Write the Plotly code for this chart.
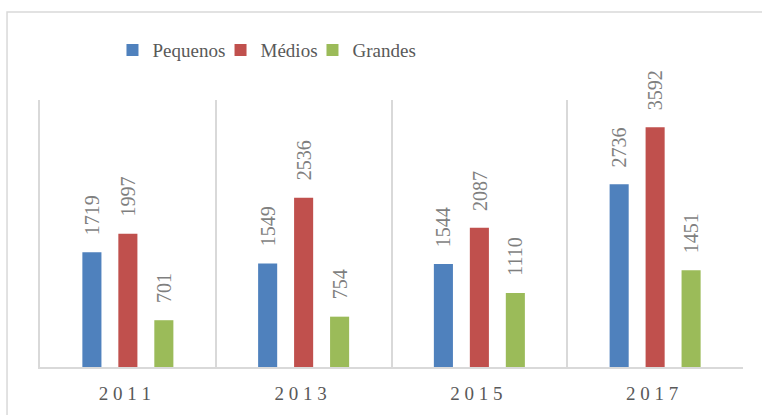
import plotly.graph_objects as go

years = ["2011", "2013", "2015", "2017"]
tick_labels = ["2 0 1 1", "2 0 1 3", "2 0 1 5", "2 0 1 7"]
pequenos = [1719, 1549, 1544, 2736]
medios = [1997, 2536, 2087, 3592]
grandes = [701, 754, 1110, 1451]

series = [
    ("Pequenos", pequenos, "#4f81bd"),
    ("Médios", medios, "#c0504d"),
    ("Grandes", grandes, "#9bbb59"),
]

FONT = "Liberation Serif, Times New Roman, serif"
legend_names = ["legend", "legend2", "legend3"]
legend_x = [0.1031, 0.2568, 0.3876]

fig = go.Figure()
for (name, vals, col), lg in zip(series, legend_names):
    fig.add_trace(go.Bar(name=name, x=years, y=vals, legend=lg,
                         marker=dict(color=col, line=dict(width=0))))

# data labels (x given as category index)
offsets = [-36, 0, 36]
for (name, vals, col), dx in zip(series, offsets):
    for i, v in enumerate(vals):
        fig.add_annotation(x=i, y=v, xref="x", yref="y", text=str(v), showarrow=False,
                           textangle=-90, xshift=dx, yshift=15, yanchor="bottom",
                           font=dict(family=FONT, size=20, color="#7f7f7f"))

# outer chart border
fig.add_shape(type="rect", xref="paper", yref="paper", x0=-0.0469, x1=1.04, y0=-0.2, y1=1.3296,
              line=dict(color="#d9d9d9", width=1.5), fillcolor="rgba(0,0,0,0)", layer="below")

legend_style = dict(orientation="h", xanchor="left", y=1.187, yanchor="middle",
                    font=dict(family=FONT, size=19, color="#595959"), itemwidth=30,
                    bgcolor="rgba(0,0,0,0)", borderwidth=0)

fig.update_layout(
    width=762, height=415,
    margin=dict(l=40, r=19, t=100, b=48, autoexpand=False),
    paper_bgcolor="white", plot_bgcolor="white",
    barmode="group", bargap=0.386, bargroupgap=0.47,
    font=dict(family=FONT, color="#595959"),
    showlegend=True,
    legend=dict(x=legend_x[0], **legend_style),
    legend2=dict(x=legend_x[1], **legend_style),
    legend3=dict(x=legend_x[2], **legend_style),
    xaxis=dict(type="category", categoryorder="array", categoryarray=years,
               range=[-0.5, len(years) - 0.5], autorange=False,
               tickson="boundaries", showgrid=True, gridcolor="#d9d9d9", gridwidth=1.5,
               showline=True, linecolor="#d9d9d9", linewidth=2, ticks="",
               tickvals=years, ticktext=tick_labels, tickangle=0, automargin=False,
               tickfont=dict(family=FONT, size=19, color="#595959"),
               ticklabelstandoff=8, ticklabelshift=-3),
    yaxis=dict(range=[0, 4000], autorange=False, showgrid=False, zeroline=False,
               showline=True, linecolor="#d9d9d9", linewidth=1.5,
               showticklabels=False, ticks=""),
)

fig.write_html("out.html", config={"displayModeBar": False},
               post_script="document.body.style.margin='0';")
